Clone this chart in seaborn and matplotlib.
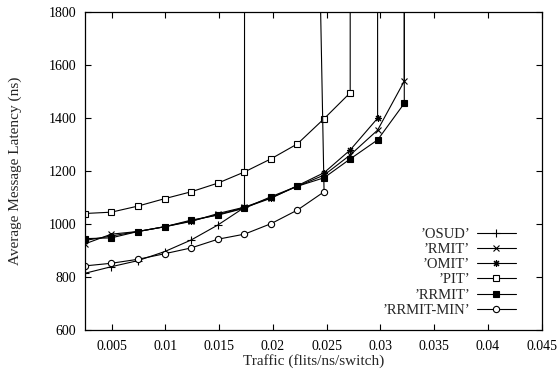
import matplotlib
matplotlib.use('Agg')
import matplotlib.pyplot as plt
import seaborn as sns
import numpy as np

# Data (traffic in flits/ns/switch, latency in ns); last point of each series is saturated
traffic = [0.0025, 0.00497, 0.00745, 0.00993, 0.0124, 0.0149, 0.01736,
           0.01985, 0.02228, 0.02476, 0.02719, 0.02974, 0.03222]

osud_x = traffic[:7] + [0.0174]
osud_y = [814, 839, 862, 896, 940, 997, 1063, 10000]

rmit_x = traffic[:13] + [0.0322]
rmit_y = [925, 962, 972, 990, 1010, 1040, 1064, 1100, 1143, 1185, 1261, 1355, 1540, 10000]

omit_x = traffic[:12] + [0.0297]
omit_y = [938, 955, 972, 990, 1012, 1036, 1062, 1098, 1145, 1194, 1280, 1400, 10000]

pit_x = traffic[:11] + [0.0272]
pit_y = [1040, 1045, 1068, 1096, 1122, 1155, 1197, 1247, 1303, 1398, 1496, 10000]

rrmit_x = traffic[:13] + [0.0322]
rrmit_y = [945, 948, 972, 990, 1015, 1034, 1060, 1104, 1143, 1175, 1246, 1318, 1456, 10000]

rrmitmin_x = traffic[:10] + [0.0206]
rrmitmin_y = [842, 852, 867, 888, 910, 943, 962, 1002, 1053, 1122, 10000]

labels = ['\u2019OSUD\u2019', '\u2019RMIT\u2019', '\u2019OMIT\u2019', '\u2019PIT\u2019',
          '\u2019RRMIT\u2019', '\u2019RRMIT-MIN\u2019']
xticks = [0.005, 0.01, 0.015, 0.02, 0.025, 0.03, 0.035, 0.04, 0.045]
yticks = [600, 800, 1000, 1200, 1400, 1600, 1800]

sns.set_style('ticks')
plt.rcParams['font.family'] = ['Liberation Serif', 'DejaVu Serif']
plt.rcParams['font.size'] = 10

fig = plt.figure(figsize=(5.58, 3.69), dpi=100)
ax = fig.add_axes([0.1518, 0.1057, 0.819, 0.861])

series = [
    (osud_x, osud_y, dict(marker='+', markersize=6, markerfacecolor='black')),
    (rmit_x, rmit_y, dict(marker='x', markersize=4.5, markerfacecolor='black')),
    (omit_x, omit_y, dict(marker=(8, 2, 0), markersize=5, markerfacecolor='black')),
    (pit_x, pit_y, dict(marker='s', markersize=4.5, markerfacecolor='white')),
    (rrmit_x, rrmit_y, dict(marker='s', markersize=4.5, markerfacecolor='black')),
    (rrmitmin_x, rrmitmin_y, dict(marker='o', markersize=4.5, markerfacecolor='white')),
]

for (xs, ys, style), lab in zip(series, labels):
    sns.lineplot(x=xs, y=ys, ax=ax, sort=False, estimator=None, color='black',
                 linewidth=0.8, markeredgecolor='black', markeredgewidth=0.8,
                 label=lab, **style)

ax.set_xlim(0.0025, 0.045)
ax.set_ylim(600, 1800)
ax.set_xticks(xticks)
ax.set_xticklabels(['%g' % t for t in xticks])
ax.set_yticks(yticks)
ax.tick_params(direction='in', top=True, right=True, length=4, width=0.8,
               labelsize=10, colors='black')
ax.tick_params(axis='x', pad=7)
ax.tick_params(axis='y', pad=6)
for s in ax.spines.values():
    s.set_visible(True)
    s.set_color('black')
    s.set_linewidth(0.9)

ax.set_xlabel('Traffic (flits/ns/switch)', fontsize=11, labelpad=1)
ax.set_ylabel('Average Message Latency (ns)', fontsize=11, labelpad=19)

ax.legend(loc='lower right', bbox_to_anchor=(0.96, 0.018), frameon=False,
          markerfirst=False, handlelength=2.7, handletextpad=0.45,
          labelspacing=0.14, borderpad=0, fontsize=10.5)

plt.savefig('out.png', dpi=100)
